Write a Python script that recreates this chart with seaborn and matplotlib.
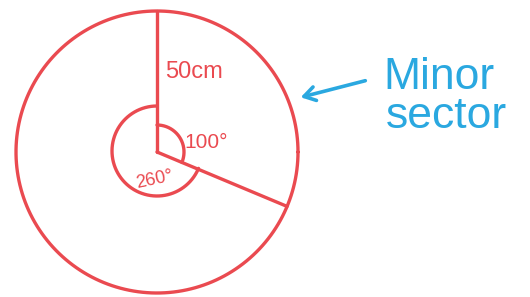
import matplotlib.pyplot as plt
import seaborn as sns
import numpy as np

# values shown in the diagram
radius_label = "50cm"
minor_angle = 100
major_angle = 260
sector_label = ["Minor", "sector"]

red = "#ea4a50"
blue = "#2aa8e0"

sns.set_style("white")
fig = plt.figure(figsize=(5.3, 2.97), dpi=100)
ax = fig.add_axes([0, 0, 1, 1])

cx, cy, R = 157, 152, 141
# the hand drawn radius sits a bit lower than a true 100 deg
drawn_end = 90 - 112.7


def arc(r, a0, a1, x0=cx, y0=cy):
    t = np.radians(np.linspace(a0, a1, 200))
    return x0 + r * np.cos(t), y0 - r * np.sin(t)


def line(x, y):
    sns.lineplot(x=x, y=y, sort=False, estimator=None, color=red,
                 lw=2.4, ax=ax)


x, y = arc(R, 0, 360)
line(x, y)

# radii
line([cx, cx], [cy - R, cy])
ex, ey = arc(R, drawn_end, drawn_end)
line([cx, ex[0]], [cy, ey[0]])

# angle arcs
x, y = arc(27, 90, drawn_end)
line(x, y)
x, y = arc(45, 90, 360 + drawn_end, cx, cy - 1)
line(x, y)

ax.set_xlim(0, 530)
ax.set_ylim(297, 0)
ax.axis("off")

fam = ["Liberation Sans", "DejaVu Sans"]
ax.text(165, 72, radius_label, color=red, fontsize=17, va="center", family=fam)
ax.text(184, 142, f"{minor_angle}°", color=red, fontsize=15, va="center",
        family=fam)
ax.text(134, 180, f"{major_angle}°", color=red, fontsize=13, va="center",
        rotation=12, family=fam)

ax.annotate("", xy=(298, 98), xytext=(368, 80),
            arrowprops=dict(arrowstyle="->,head_length=0.8,head_width=0.5",
                            color=blue, lw=2.6))
ax.text(383, 89, sector_label[0], color=blue, fontsize=32, va="baseline",
        family=fam)
ax.text(386, 128, sector_label[1], color=blue, fontsize=32, va="baseline",
        family=fam)

fig.savefig("out.png", dpi=100)
